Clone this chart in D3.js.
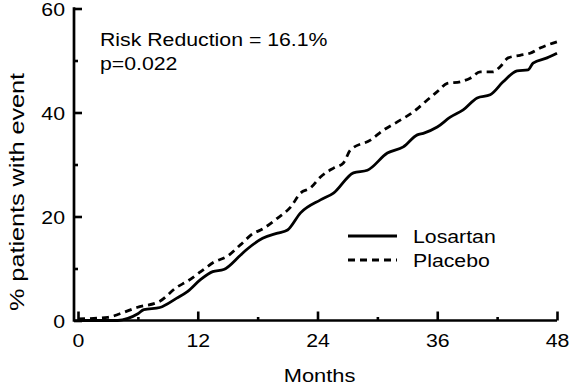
<!DOCTYPE html>
<html>
<head>
<meta charset="utf-8">
<script src="https://cdn.jsdelivr.net/npm/d3@7"></script>
<style>
  body { margin: 0; background: #fff; }
  svg text { font-family: "Liberation Sans", Arial, Helvetica, sans-serif; fill: #000; }
</style>
</head>
<body>
<div id="chart"></div>
<script>
// cumulative % of patients with event
var losartanMonths = [0, 4, 5, 6, 6.6, 8.2, 9.9, 11, 12.3, 13.5, 14.6, 16.3, 17, 18.5, 20, 21, 22.3, 24.3, 25.6, 27.6, 29, 31, 32.6, 34, 34.6, 36, 37.3, 38.6, 40, 41.3, 42.6, 44, 45.1, 45.6, 47, 48];
var losartanValues = [0, 0, 0.4, 1.3, 2.1, 2.5, 4.3, 5.6, 7.9, 9.4, 9.8, 12.6, 13.8, 15.8, 16.8, 17.4, 20.7, 23.2, 24.5, 28.4, 28.9, 32.2, 33.4, 35.7, 36, 37.2, 39.1, 40.5, 42.8, 43.4, 45.9, 48, 48.2, 49.5, 50.5, 51.4];

var placeboMonths = [0, 3, 4.2, 5.9, 8.2, 9.9, 11, 12.3, 13.6, 15, 16.3, 17.6, 18.3, 20, 21.3, 22.3, 23.3, 24.3, 25.6, 26.6, 27.3, 29.3, 30.6, 32, 33.6, 35, 36, 37, 38.3, 39.3, 40.3, 41.6, 42.3, 43.1, 44.3, 45.3, 46.3, 48];
var placeboValues = [0.3, 0.6, 1.3, 2.5, 3.7, 6.4, 7.6, 9.4, 11.2, 12.4, 14.6, 16.8, 17.4, 19.7, 21.8, 24.5, 25.5, 27.6, 29.3, 30.3, 32.8, 34.7, 36.6, 38.2, 40.1, 42.4, 44, 45.6, 45.9, 46.6, 47.8, 47.8, 48.8, 50.5, 51, 51.4, 52.4, 53.6];

var seriesNames = ['Losartan', 'Placebo'];
var xTicks = [0, 12, 24, 36, 48];
var xMinorTicks = [6, 18, 30, 42];
var yTicks = [0, 20, 40, 60];
var yMinorTicks = [10, 30, 50];
var annotation = ['Risk Reduction = 16.1%', 'p=0.022'];

var width = 579, height = 388;
var axisX = 74, axisY = 320.5;
var stretch = 1.15;   // the original lettering is a bit wide
var fontSize = 18.5;

var x = d3.scaleLinear().domain([0, 48]).range([78, 557]);
var y = d3.scaleLinear().domain([0, 60]).range([320.5, 8.5]);

var svg = d3.select('#chart').append('svg')
    .attr('width', width)
    .attr('height', height);

function wideText(g, tx, ty, str, anchor) {
    return g.append('text')
        .attr('transform', 'translate(' + tx + ',' + ty + ') scale(' + stretch + ',1)')
        .attr('text-anchor', anchor || 'start')
        .style('font-size', fontSize + 'px')
        .text(str);
}

// x axis
var xAxis = svg.append('g')
    .attr('class', 'x axis')
    .attr('transform', 'translate(0,' + axisY + ')')
    .call(d3.axisBottom(x).tickValues(xTicks).tickSize(-9).tickSizeOuter(0).tickPadding(13.5));
svg.append('g')
    .attr('transform', 'translate(0,' + axisY + ')')
    .call(d3.axisBottom(x).tickValues(xMinorTicks).tickSize(-3.5).tickSizeOuter(0).tickFormat(''))
    .select('.domain').remove();
xAxis.select('.domain').remove();
xAxis.selectAll('text')
    .style('font-size', fontSize + 'px')
    .attr('transform', 'scale(' + stretch + ',1)');

// y axis
var yAxis = svg.append('g')
    .attr('class', 'y axis')
    .attr('transform', 'translate(' + axisX + ',0)')
    .call(d3.axisLeft(y).tickValues(yTicks).tickSize(-8).tickSizeOuter(0).tickPadding(9));
svg.append('g')
    .attr('transform', 'translate(' + axisX + ',0)')
    .call(d3.axisLeft(y).tickValues(yMinorTicks).tickSize(-4).tickSizeOuter(0).tickFormat(''))
    .select('.domain').remove();
yAxis.select('.domain').remove();
yAxis.selectAll('text')
    .style('font-size', fontSize + 'px')
    .attr('x', -9 / stretch)
    .attr('dy', '0.4em')
    .attr('transform', 'scale(' + stretch + ',1)');

svg.selectAll('.tick line').attr('stroke', '#000').attr('stroke-width', 2.6);

// axis lines
svg.append('line')
    .attr('x1', axisX).attr('x2', x(48))
    .attr('y1', axisY).attr('y2', axisY)
    .attr('stroke', '#000').attr('stroke-width', 2.7);
svg.append('line')
    .attr('x1', axisX).attr('x2', axisX)
    .attr('y1', axisY + 1.3).attr('y2', y(60) - 1.3)
    .attr('stroke', '#000').attr('stroke-width', 2.7);

// axis labels
svg.append('text')
    .attr('transform', 'translate(' + ((x(0) + x(48)) / 2 + 2) + ',382) scale(' + stretch + ',1)')
    .attr('text-anchor', 'middle')
    .style('font-size', '19px')
    .text('Months');
svg.append('text')
    .attr('transform', 'translate(24,192) rotate(-90) scale(1.2,1)')
    .attr('text-anchor', 'middle')
    .style('font-size', '21px')
    .text('% patients with event');

// curves
var line = d3.line()
    .x(function (d) { return x(d[0]); })
    .y(function (d) { return y(d[1]); })
    .curve(d3.curveMonotoneX);

var series = [
    {name: seriesNames[0], data: d3.zip(losartanMonths, losartanValues), dash: null},
    {name: seriesNames[1], data: d3.zip(placeboMonths, placeboValues), dash: '7,5'}
];

svg.selectAll('path.curve')
    .data(series)
    .enter()
    .append('path')
    .attr('class', 'curve')
    .attr('d', function (d) { return line(d.data); })
    .attr('fill', 'none')
    .attr('stroke', '#000')
    .attr('stroke-width', 2.8)
    .attr('stroke-dasharray', function (d) { return d.dash; });

// legend
var legend = svg.append('g');
series.forEach(function (s, i) {
    var ly = 236 + i * 24;
    legend.append('line')
        .attr('x1', 348).attr('x2', 397)
        .attr('y1', ly).attr('y2', ly)
        .attr('stroke', '#000')
        .attr('stroke-width', 2.8)
        .attr('stroke-dasharray', s.dash);
    wideText(legend, 413, ly + 7, s.name);
});

// annotation
wideText(svg, 100, 46, annotation[0]);
wideText(svg, 100, 70, annotation[1]);
</script>
</body>
</html>
